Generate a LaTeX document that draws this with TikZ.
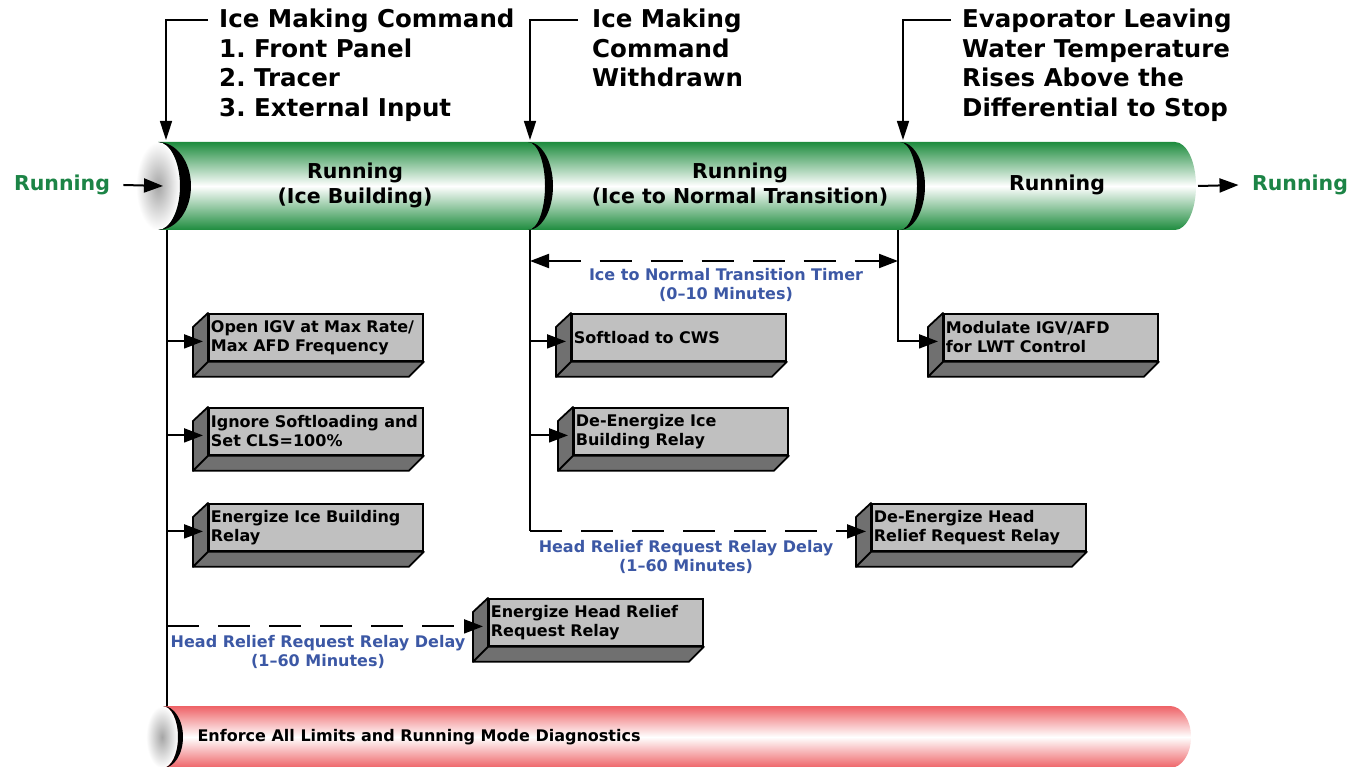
\documentclass[tikz,border=0pt]{standalone}
\usepackage{fontspec}
\setmainfont{DejaVu Sans}
\usepackage{tikz}
\usetikzlibrary{arrows.meta,calc}
\frenchspacing
\definecolor{pipegreen}{RGB}{30,140,62}
\definecolor{pipered}{RGB}{238,98,102}
\definecolor{modegreen}{RGB}{28,132,70}
\definecolor{delayblue}{RGB}{60,88,165}
\definecolor{boxgray}{RGB}{192,192,192}
\definecolor{sidegray}{RGB}{112,112,112}
\tikzset{
  flowarrow/.style={-{Triangle[length=19pt,width=14pt]}, line width=2pt},
  delayarrow/.style={-{Triangle[length=19pt,width=14pt]}, line width=2pt, dash pattern=on 32pt off 19pt},
  timerarrow/.style={{Triangle[length=19pt,width=14pt]}-{Triangle[length=19pt,width=14pt]}, line width=2pt, dash pattern=on 32pt off 19pt},
  cmdarrow/.style={-{Triangle[length=19pt,width=12pt]}, line width=1.6pt},
  trunk/.style={line width=2pt},
  relaybox/.style={draw, line width=1.8pt, fill=boxgray, anchor=north west, minimum height=47pt, text width=210pt, inner xsep=2pt, inner ysep=0pt, align=left, font=\fontsize{16}{19}\selectfont\bfseries},
  sideface/.style={draw, line width=1.8pt, fill=sidegray, line join=round},
  cmdlabel/.style={anchor=north west, inner sep=0pt, align=left, font=\fontsize{24.5}{29.5}\selectfont\bfseries},
  pipelabel/.style={align=center, font=\fontsize{20.5}{25}\selectfont\bfseries},
  modelabel/.style={text=modegreen, font=\fontsize{20.5}{25}\selectfont\bfseries},
  delaylabel/.style={text=delayblue, align=center, font=\fontsize{16}{19}\selectfont\bfseries},
  redlabel/.style={anchor=west, font=\fontsize{16}{19}\selectfont\bfseries},
  pipecap/.style={inner color=gray!70, outer color=white}
}

\begin{document}
\begin{tikzpicture}[x=1pt, y=-1pt]
  \useasboundingbox (0,0) rectangle (1362,767);

  \shade[top color=pipegreen, bottom color=pipegreen, middle color=white] (158,142) -- (1175,142) arc[start angle=-90, end angle=90, x radius=21, y radius=44] -- (158,230) -- cycle;
  \shade[pipecap] (158,186) ellipse[x radius=22, y radius=44];
  \fill (158,142) arc[start angle=-90, end angle=90, x radius=33, y radius=44] arc[start angle=90, end angle=-90, x radius=22, y radius=44] -- cycle;
  \fill (528,142) arc[start angle=-90, end angle=90, x radius=25, y radius=44] arc[start angle=90, end angle=-90, x radius=17, y radius=44] -- cycle;
  \fill (900,142) arc[start angle=-90, end angle=90, x radius=25, y radius=44] arc[start angle=90, end angle=-90, x radius=17, y radius=44] -- cycle;

  \shade[top color=pipered, bottom color=pipered, middle color=white] (163,706) -- (1170,706) arc[start angle=-90, end angle=90, x radius=21, y radius=31] -- (163,768) -- cycle;
  \shade[pipecap] (162,737) ellipse[x radius=16, y radius=31];
  \fill (163,706) arc[start angle=-90, end angle=90, x radius=20, y radius=31] arc[start angle=90, end angle=-90, x radius=15, y radius=31] -- cycle;

  \node[pipelabel] (icebuild) at (355,185) {Running\\(Ice Building)};
  \node[pipelabel] (transition) at (740,185) {Running\\(Ice to Normal Transition)};
  \node[pipelabel] (running) at (1057,185) {Running};
  \node[modelabel] (modein) at (62,185) {Running};
  \node[modelabel] (modeout) at (1300,185) {Running};
  \node[redlabel] (limits) at (194,737) {Enforce All Limits and Running Mode Diagnostics};

  \node[cmdlabel] (cmdstart) at (219,9) {Ice Making Command\\1. Front Panel\\2. Tracer\\3. External Input};
  \node[cmdlabel] (cmdstop) at (592,9) {Ice Making\\Command\\Withdrawn};
  \node[cmdlabel] (lwtstop) at (962,9) {Evaporator Leaving\\Water Temperature\\Rises Above the\\Differential to Stop};

  \coordinate (d1top) at (166,140);
  \coordinate (d2top) at (530,140);
  \coordinate (d3top) at (903,140);
  \coordinate (d1foot) at (167,230);
  \coordinate (d1end) at (167,706);
  \coordinate (d2foot) at (530,230);
  \coordinate (d3foot) at (898,230);
  \coordinate (capin) at (163,186);
  \coordinate (pipeout) at (1198,186);

  \draw[cmdarrow] ([shift={(-11,11)}]cmdstart.north west) -| (d1top);
  \draw[cmdarrow] ([shift={(-14,11)}]cmdstop.north west) -| (d2top);
  \draw[cmdarrow] ([shift={(-11,11)}]lwtstop.north west) -| (d3top);
  \draw[flowarrow] ([xshift=10]modein.east) -- (capin);
  \draw[flowarrow] (pipeout) -- ([xshift=-10]modeout.west);

  \node[relaybox] (b1) at (208,313) {Open IGV at Max Rate/\\Max AFD Frequency};
  \node[relaybox] (b2) at (208,407) {Ignore Softloading and\\Set CLS=100\%};
  \node[relaybox] (b3) at (208,503) {Energize Ice Building\\Relay};
  \node[relaybox] (b4) at (488,598) {Energize Head Relief\\Request Relay};
  \node[relaybox] (b5) at (571,313) {Softload to CWS};
  \node[relaybox] (b6) at (573,407) {De-Energize Ice\\Building Relay};
  \node[relaybox] (b7) at (871,503) {De-Energize Head\\Relief Request Relay};
  \node[relaybox] (b8) at (943,313) {Modulate IGV/AFD\\for LWT Control};
  \foreach \b in {b1,b2,b3,b4,b5,b6,b7,b8} {
    \draw[sideface] (\b.north west) -- ([shift={(-15,14)}]\b.north west) -- ([shift={(-15,15)}]\b.south west) -- (\b.south west) -- cycle;
    \draw[sideface] (\b.south west) -- ([shift={(-15,15)}]\b.south west) -- ([shift={(-15,15)}]\b.south east) -- (\b.south east) -- cycle;
    \coordinate (in\b) at ([shift={(-5,4)}]\b.west);
  }

  \draw[trunk] (d1foot) -- (d1end);
  \draw[flowarrow] (d1foot |- inb1) -- (inb1);
  \draw[flowarrow] (d1foot |- inb2) -- (inb2);
  \draw[flowarrow] (d1foot |- inb3) -- (inb3);
  \draw[delayarrow] (d1foot |- inb4) -- (inb4);
  \node[delaylabel] (delayleft) at (318,652) {Head Relief Request Relay Delay\\(1--60 Minutes)};

  \draw[trunk] (d2foot) -- (d2foot |- inb7);
  \draw[flowarrow] (d2foot |- inb5) -- (inb5);
  \draw[flowarrow] (d2foot |- inb6) -- (inb6);
  \draw[delayarrow] (d2foot |- inb7) -- (inb7);
  \node[delaylabel] (delaymid) at (686,557) {Head Relief Request Relay Delay\\(1--60 Minutes)};

  \coordinate (timerl) at (530,261);
  \coordinate (timerr) at (898,261);
  \draw[timerarrow] (timerl) -- (timerr);
  \node[delaylabel] (timer) at (726,285) {Ice to Normal Transition Timer\\(0--10 Minutes)};

  \draw[flowarrow] (d3foot) |- (inb8);
\end{tikzpicture}
\end{document}
